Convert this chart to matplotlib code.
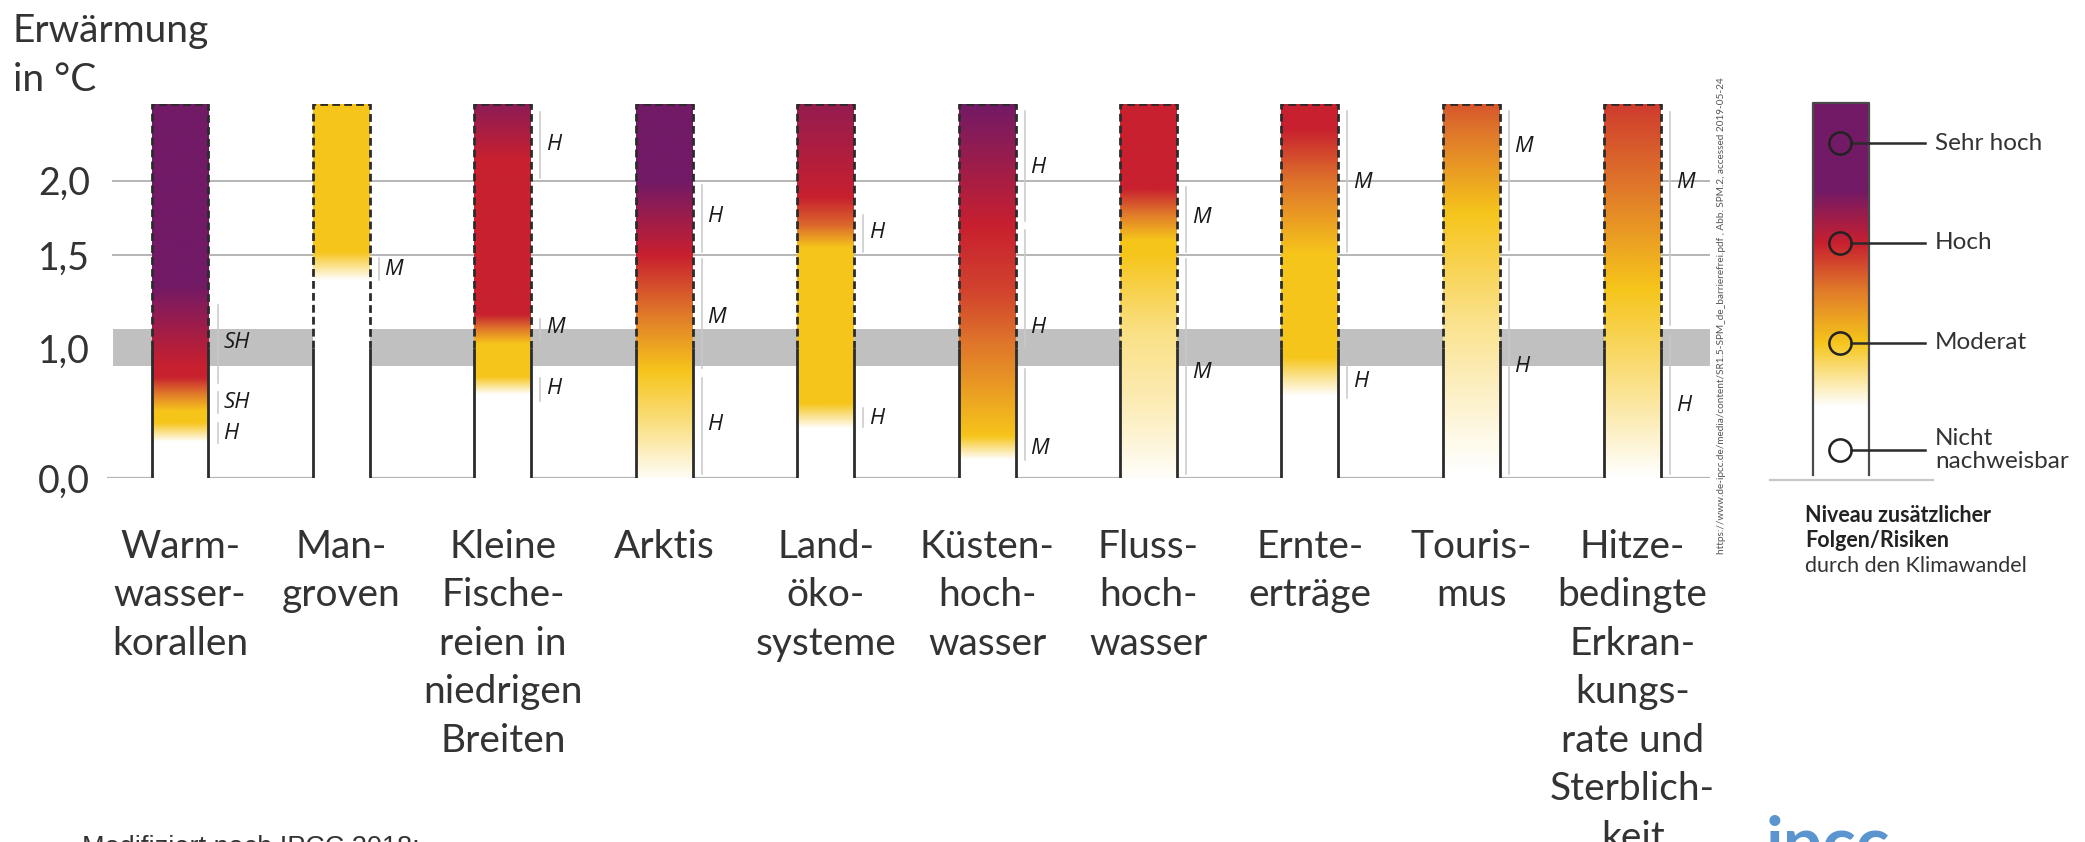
import numpy as np
import matplotlib.pyplot as plt
from matplotlib.colors import LinearSegmentedColormap

plt.rcParams['font.family'] = ['Lato', 'DejaVu Sans']

# Kategorien unter den Säulen
categories = [
    "Warm-\nwasser-\nkorallen",
    "Man-\ngroven",
    "Kleine\nFische-\nreien in\nniedrigen\nBreiten",
    "Arktis",
    "Land-\nöko-\nsysteme",
    "Küsten-\nhoch-\nwasser",
    "Fluss-\nhoch-\nwasser",
    "Ernte-\nerträge",
    "Touris-\nmus",
    "Hitze-\nbedingte\nErkran-\nkungs-\nrate und\nSterblich-\nkeit",
]

# Risikostufe (0 = nicht nachweisbar, 1 = moderat, 2 = hoch, 3 = sehr hoch)
# in Abhängigkeit der Erwärmung in °C
risk_temps = [
    [0.0, 0.24, 0.37, 0.45, 0.68, 0.75, 1.30, 2.52],
    [0.0, 1.33, 1.52, 2.52],
    [0.0, 0.56, 0.68, 0.90, 1.10, 2.15, 2.52],
    [0.0, 0.40, 0.72, 1.10, 1.50, 2.00, 2.52],
    [0.0, 0.33, 0.50, 1.55, 1.70, 1.89, 2.52],
    [0.0, 0.12, 0.28, 0.75, 1.25, 1.70, 2.52],
    [0.0, 0.45, 1.00, 1.50, 1.60, 1.95, 2.52],
    [0.0, 0.55, 0.81, 1.51, 2.05, 2.35, 2.52],
    [0.0, 0.26, 1.04, 1.78, 2.52],
    [0.0, 0.60, 1.27, 1.94, 2.52],
]
risk_levels = [
    [0.0, 0.0, 1.0, 1.0, 2.0, 2.0, 3.0, 3.0],
    [0.0, 0.0, 1.0, 1.0],
    [0.0, 0.0, 1.0, 1.0, 2.0, 2.0, 2.7],
    [0.05, 0.6, 1.0, 1.5, 2.0, 3.0, 3.0],
    [0.0, 0.0, 1.0, 1.0, 1.6, 2.0, 2.6],
    [0.0, 0.0, 1.0, 1.4, 1.8, 2.0, 3.0],
    [0.03, 0.3, 0.55, 1.0, 1.0, 2.0, 2.0],
    [0.0, 0.0, 1.0, 1.0, 1.6, 2.0, 2.0],
    [0.0, 0.1, 0.5, 1.0, 1.7],
    [0.0, 0.5, 1.0, 1.5, 1.85],
]

# Vertrauensbereiche: (von, bis, Vertrauen, Position der Beschriftung)
confidence = [
    [(0.64, 1.16, "SH", 0.91), (0.44, 0.58, "SH", 0.51), (0.235, 0.37, "H", 0.30)],
    [(1.33, 1.48, "M", 1.40)],
    [(2.02, 2.46, "H", 2.24), (0.93, 1.07, "M", 1.01), (0.52, 0.67, "H", 0.60)],
    [(1.52, 1.97, "H", 1.76), (0.74, 1.47, "M", 1.08), (0.03, 0.67, "H", 0.36)],
    [(1.52, 1.77, "H", 1.65), (0.34, 0.47, "H", 0.40)],
    [(1.73, 2.47, "H", 2.09), (0.88, 1.67, "H", 1.01), (0.12, 0.73, "M", 0.20)],
    [(1.52, 1.96, "M", 1.75), (0.03, 1.47, "M", 0.71)],
    [(1.52, 2.47, "M", 1.99), (0.54, 0.78, "H", 0.65)],
    [(1.53, 2.47, "M", 2.23), (0.03, 1.47, "H", 0.75)],
    [(1.03, 2.46, "M", 1.99), (0.03, 0.96, "H", 0.49)],
]

ytick_pos = [0.0, 0.875, 1.5, 2.0]
ytick_labels = ["0,0", "1,0", "1,5", "2,0"]
gridlines = [1.5, 2.0]
band = (0.75, 1.0)        # grauer Bereich um 1 °C
solid_top = 0.875         # bis hier durchgezogene Linien
bar_top = 2.515

legend_names = ["Sehr hoch", "Hoch", "Moderat", "Nicht\nnachweisbar"]
legend_pos = [0.892, 0.624, 0.355, 0.067]
legend_grad_pos = [0.0, 0.183, 0.355, 0.497, 0.624, 0.766, 1.0]
legend_grad_lvl = [0.0, 0.0, 1.0, 1.5, 2.0, 3.0, 3.0]

risk_cmap = LinearSegmentedColormap.from_list(
    "risk", [(0.0, "#ffffff"), (1 / 3, "#f6c51b"), (0.5, "#e07a2a"),
             (2 / 3, "#c8202f"), (1.0, "#721a66")])

W, H = 2085, 842
fig = plt.figure(figsize=(W / 100, H / 100), dpi=100)

ax = fig.add_axes([107 / W, 1 - 478 / H, 1603 / W, 374 / H])
ax.set_facecolor('none')
for s in ax.spines.values():
    s.set_visible(False)

bw = 0.353
gap = 0.056
ink = '#2b2b2b'
text_col = '#333333'

ax.axhspan(band[0], band[1], xmin=0.004, xmax=1, color='#c0c0c0', lw=0, zorder=0)
ax.axhline(0, color='#b5b5b5', lw=1.6, zorder=0.5)
for g in gridlines:
    ax.axhline(g, xmin=0.004, color='#b5b5b5', lw=1.4, zorder=0.5)

yy = np.linspace(0, bar_top, 500)
for i in range(len(categories)):
    x0, x1 = i - bw / 2, i + bw / 2
    lv = np.interp(yy, risk_temps[i], risk_levels[i])
    img = risk_cmap(lv / 3)[:, None, :]
    ax.imshow(img, extent=[x0, x1, 0, bar_top], origin='lower',
              aspect='auto', interpolation='bilinear', zorder=2)
    for xe in (x0, x1):
        ax.plot([xe, xe], [0, solid_top], color=ink, lw=2.0,
                solid_capstyle='butt', zorder=3)
    ax.plot([x0, x0, x1, x1], [solid_top, bar_top, bar_top, solid_top],
            color=ink, lw=2.0, ls=(0, (2.8, 1.5)), zorder=3)
    xl = x1 + gap
    for lo, hi, lab, ly in confidence[i]:
        ax.plot([xl, xl], [lo, hi], color='#c8c8c8', lw=1.1, zorder=1)
        ax.text(xl + 0.035, ly, lab, fontsize=16, style='italic',
                family=['Open Sans', 'DejaVu Sans'], color='#1a1a1a',
                ha='left', va='center', zorder=4)
    ax.text(i, (478 - 529) / 374, categories[i], transform=ax.get_xaxis_transform(),
            ha='center', va='top', fontsize=28, color=text_col, linespacing=1.43)

ax.set_xlim(-0.4523, 9.479)
ax.set_ylim(0, bar_top)
ax.set_xticks([])
ax.set_yticks(ytick_pos, labels=ytick_labels)
ax.tick_params(axis='y', length=0, pad=12, labelsize=27, labelcolor=text_col)

fig.text(13 / W, 1 - 13 / H, "Erwärmung\nin °C", ha='left', va='top',
         fontsize=28, color=text_col, linespacing=1.45)

# Quelle (vertikal)
fig.text(1722 / W, 1 - 316 / H,
         "https://www.de-ipcc.de/media/content/SR1.5-SPM_de_barrierefrei.pdf , "
         "Abb. SPM.2, accessed 2019-05-24",
         rotation=90, ha='center', va='center', fontsize=7.2, color='#555555')

# Legende
lax = fig.add_axes([1813 / W, 1 - 475 / H, 56 / W, 372 / H])
lax.set_xlim(0, 1)
lax.set_ylim(0, 1)
lax.axis('off')
ly = np.linspace(0, 1, 400)
limg = risk_cmap(np.interp(ly, legend_grad_pos, legend_grad_lvl) / 3)[:, None, :]
lax.imshow(limg, extent=[0, 1, 0, 1], origin='lower', aspect='auto',
           interpolation='bilinear', zorder=1)
lax.plot([0, 0, 1, 1], [0, 1, 1, 0], color='#4a4a4a', lw=1.6, zorder=2, clip_on=False)
lax.plot([-0.77, 2.15], [-0.013, -0.013], color='#c8c8c8', lw=1.6, clip_on=False)
for name, p in zip(legend_names, legend_pos):
    lax.plot([0.68, 2.0], [p, p], color='#2b2b2b', lw=1.8, clip_on=False, zorder=3)
    lax.plot([0.48], [p], marker='o', ms=16, mfc='none', mec='#222222', mew=1.8,
             clip_on=False, zorder=4)
    lax.text(2.18, p, name, ha='left', va='center', fontsize=17.5,
             color=text_col, linespacing=1.1, clip_on=False)

fig.text(1805 / W, 1 - 522 / H, "Niveau zusätzlicher", fontsize=15.5,
         weight='bold', color='#222222', va='baseline')
fig.text(1805 / W, 1 - 547 / H, "Folgen/Risiken", fontsize=15.5,
         weight='bold', color='#222222', va='baseline')
fig.text(1805 / W, 1 - 572 / H, "durch den Klimawandel", fontsize=15.5,
         color='#333333', va='baseline')

fig.text(82 / W, 1 - 855 / H, "Modifiziert nach IPCC 2018:", fontsize=19.5,
         family=['Liberation Sans', 'DejaVu Sans'], color='#333333', va='baseline')
fig.text(1766 / W, 1 - 866 / H, "ipcc", fontsize=50, weight='bold',
         color='#5a95d0', va='baseline')

fig.savefig('out.png', dpi=100)
